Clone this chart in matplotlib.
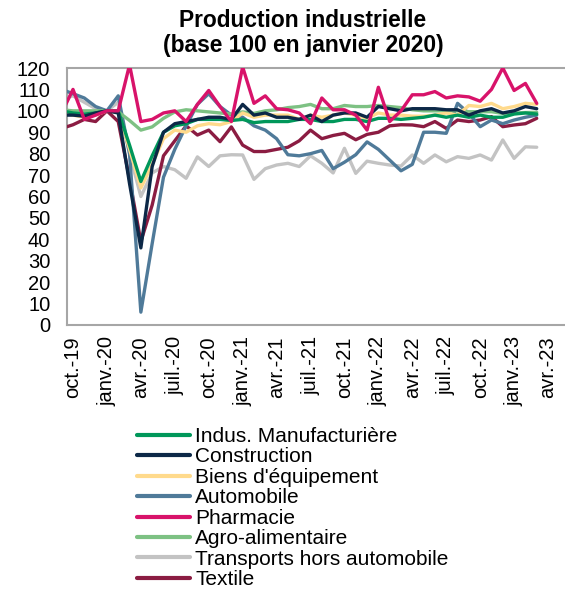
import matplotlib
matplotlib.use("Agg")
import matplotlib.pyplot as plt
import numpy as np

plt.rcParams['font.family'] = ['Liberation Sans', 'DejaVu Sans']

# Monthly data from sept. 2019 (index -1) to mars 2023 (index 41); base 100 = janv. 2020
months = list(range(-1, 42))

indus = [100, 99, 98.5, 99, 100, 100, 84, 67, 79, 90, 93, 94, 96, 96, 96, 95.5,
         96, 94.5, 95, 95, 95, 96, 96, 95, 95, 96, 96, 95, 96.5, 96.5, 96,
         96.5, 97, 98, 97, 98, 97, 98, 97, 97, 98.5, 99, 98.5]
construction = [98, 98, 97.5, 99, 100, 99, 66, 36, 74, 90, 94, 95, 96, 97, 97, 96,
                103, 98, 99, 97, 97, 96, 98, 95, 98, 99, 99, 97, 102, 101, 100,
                101, 101, 101, 100.5, 100.5, 98, 100, 101, 99, 100, 102, 101]
biens = [99, 98, 97, 98, 100, 100, 82, 64, 75, 87, 91, 90, 93, 94, 93.5, 95,
         99, 97, 98, 98, 98, 96, 98, 97, 98, 99, 98, 96.5, 99, 98, 98,
         97.5, 97.5, 98, 99, 98, 102.5, 102, 103.5, 101, 102, 103.5, 103]
automobile = [110, 108, 106, 102, 100, 107, 80, 6, 38, 69, 82, 93, 103, 108, 102, 98,
              97, 93, 91, 87, 79.5, 79, 80, 81.5, 73, 76, 79.5, 85.5, 82, 77, 72,
              75, 90, 90, 89.5, 103.5, 98.8, 92.6, 95.7, 94, 95.7, 97, 98]
pharmacie = [99, 110, 96, 98, 100, 100, 121.5, 95, 96, 99, 100, 95, 103, 109.5, 102, 95,
             120.5, 103.5, 107, 101, 100.5, 99, 94, 106, 100.5, 100.5, 98, 91, 111, 95, 100,
             107.5, 107.5, 109, 106, 107, 106.5, 104.5, 110, 120, 109.5, 112.8, 103.5]
agro = [100.5, 100, 100, 100, 100, 99.5, 95.5, 91, 92.5, 96.5, 99.5, 100.5, 100, 99.5, 99, 98.5,
        99.5, 98.8, 100, 100.5, 101.5, 102, 103, 101, 101, 102.5, 102, 102, 102.5, 102, 101.5,
        100.5, 100, 100, 100, 100, 99.6, 99.6, 99.6, 98.8, 99, 99.2, 99.3]
transports = [105.5, 107, 104, 101, 100, 104, 80, 60, 71, 74, 72.5, 68.5, 78.5, 74, 79, 79.5,
              79.4, 68, 73, 74.7, 75.5, 74, 79, 75.5, 71, 82.5, 70.8, 76.5, 75.5, 74.7, 74.2,
              79.4, 75.5, 79.4, 76.2, 78.6, 77.8, 79.4, 77, 86.4, 77.8, 83.2, 83]
textile = [91.8, 93.5, 96, 95, 100, 95, 68, 39, 56, 79, 86, 93, 88.7, 91, 85.6, 92.5,
           84, 81, 81, 82, 83, 86, 91, 87, 88.5, 89.5, 86.5, 89, 90, 93, 93.5,
           93.4, 92.6, 95, 91.8, 95.7, 95, 95.7, 97.3, 92.6, 93.4, 94, 96.5]

series_names = ["Indus. Manufacturière", "Construction", "Biens d'équipement", "Automobile",
                "Pharmacie", "Agro-alimentaire", "Transports hors automobile", "Textile"]
series_values = [indus, construction, biens, automobile, pharmacie, agro, transports, textile]
series_colors = ["#00975A", "#0C2847", "#FFDA8C", "#4F7A99", "#D8136A", "#7DC183", "#C3C3C3", "#8B1C42"]

tick_positions = list(range(0, 43, 3))
tick_labels = ["oct.-19", "janv.-20", "avr.-20", "juil.-20", "oct.-20", "janv.-21", "avr.-21",
               "juil.-21", "oct.-21", "janv.-22", "avr.-22", "juil.-22", "oct.-22", "janv.-23", "avr.-23"]

fig = plt.figure(figsize=(5.65, 5.94), dpi=100)
ax = fig.add_axes([67/565, 269/594, 1 - 67/565, 257/594])

order = [6, 7, 3, 5, 2, 0, 1, 4]
lines = {}
for i in order:
    ln, = ax.plot(months, series_values[i], color=series_colors[i], lw=2.4,
                  solid_joinstyle='round', solid_capstyle='round', zorder=2 + order.index(i))
    lines[i] = ln

ax.set_xlim(-0.53, 43.5)
ax.set_ylim(0, 120)
ax.set_yticks(range(0, 121, 10))
ax.set_xticks(tick_positions)
ax.set_xticklabels(tick_labels, rotation=90)
ax.tick_params(axis='both', length=0, labelsize=14.5, colors='black')
ax.tick_params(axis='y', pad=12)
ax.tick_params(axis='x', pad=8)
for s in ['left', 'bottom', 'top']:
    ax.spines[s].set_color('#A6A6A6')
    ax.spines[s].set_linewidth(1.5)
ax.spines['right'].set_visible(False)

fig.text(303/565, 1 - 9/594, "Production industrielle\n(base 100 en janvier 2020)",
         ha='center', va='top', fontsize=16.4, fontweight='bold', linespacing=1.1)

handles = [lines[i] for i in range(8)]
leg = fig.legend(handles, series_names, loc='upper left',
                 bbox_to_anchor=(137/565, 1 - 427/594), frameon=False,
                 fontsize=15, handlelength=2.55, handletextpad=0.24,
                 labelspacing=0.07, borderpad=0, borderaxespad=0)
for h in leg.get_lines():
    h.set_linewidth(3)

fig.savefig("out.png", dpi=100)
